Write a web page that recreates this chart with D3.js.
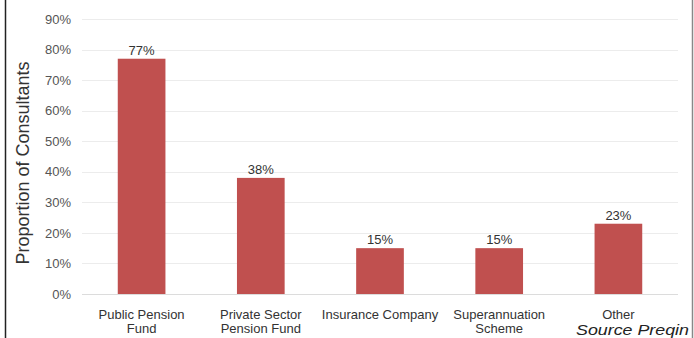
<!DOCTYPE html>
<html>
<head>
<meta charset="utf-8">
<script src="https://cdn.jsdelivr.net/npm/d3@7"></script>
<style>
  html, body { margin: 0; padding: 0; background: #fff; }
  svg { display: block; font-family: "Liberation Sans", Arial, sans-serif; }
</style>
</head>
<body>
<svg id="chart" width="694" height="338"></svg>
<script>
// Investor types served by consultants
const categories = [
  ["Public Pension", "Fund"],
  ["Private Sector", "Pension Fund"],
  ["Insurance Company"],
  ["Superannuation", "Scheme"],
  ["Other"]
];
const values = [77, 38, 15, 15, 23];
const yTicks = [0, 10, 20, 30, 40, 50, 60, 70, 80, 90];

const svg = d3.select("#chart");
const W = 694, H = 338;
const m = { left: 82, right: 16, top: 19, bottom: 44 };

const x = d3.scaleBand()
  .domain(d3.range(categories.length))
  .range([m.left, W - m.right])
  .paddingInner(0.6)
  .paddingOuter(0.3);

const y = d3.scaleLinear().domain([0, 90]).range([H - m.bottom, m.top]);

// frame lines on the left and right edges
svg.append("line").attr("x1", 5.5).attr("x2", 5.5).attr("y1", 0).attr("y2", H)
  .attr("stroke", "#222").attr("stroke-width", 1.5);
svg.append("line").attr("x1", 692.5).attr("x2", 692.5).attr("y1", 0).attr("y2", H)
  .attr("stroke", "#888").attr("stroke-width", 1.5);

// horizontal gridlines
svg.append("g")
  .selectAll("line")
  .data(yTicks)
  .join("line")
  .attr("x1", m.left).attr("x2", W - m.right)
  .attr("y1", d => Math.round(y(d)) + 0.5).attr("y2", d => Math.round(y(d)) + 0.5)
  .attr("stroke", d => d === 0 ? "#dcdcdc" : "#ececec")
  .attr("stroke-width", 1);

// y axis tick labels
const yAxis = d3.axisLeft(y).tickValues(yTicks).tickFormat(d => d + "%").tickSize(0).tickPadding(0);
const gy = svg.append("g").attr("transform", `translate(${m.left - 11},0)`).call(yAxis);
gy.select(".domain").remove();
gy.selectAll("text").attr("font-size", 13).attr("fill", "#555")
  .attr("font-family", "'Liberation Sans', Arial, sans-serif");

// bars
svg.append("g")
  .selectAll("rect")
  .data(values)
  .join("rect")
  .attr("x", (d, i) => x(i))
  .attr("y", d => y(d))
  .attr("width", x.bandwidth())
  .attr("height", d => y(0) - y(d))
  .attr("fill", "#c0504f");

// value labels
svg.append("g")
  .selectAll("text")
  .data(values)
  .join("text")
  .attr("x", (d, i) => x(i) + x.bandwidth() / 2)
  .attr("y", d => y(d) - 4)
  .attr("text-anchor", "middle")
  .attr("font-size", 13)
  .attr("fill", "#333")
  .text(d => d + "%");

// category labels
const cat = svg.append("g")
  .selectAll("text")
  .data(categories)
  .join("text")
  .attr("text-anchor", "middle")
  .attr("font-size", 13)
  .attr("fill", "#333")
  .attr("transform", (d, i) => `translate(${x(i) + x.bandwidth() / 2},${y(0) + 24.5})`);
cat.selectAll("tspan")
  .data(d => d)
  .join("tspan")
  .attr("x", 0)
  .attr("dy", (d, j) => j === 0 ? 0 : 14.5)
  .text(d => d);

// y axis title
svg.append("text")
  .attr("transform", `translate(28.5,163) rotate(-90)`)
  .attr("text-anchor", "middle")
  .attr("font-size", 18)
  .attr("fill", "#333")
  .text("Proportion of Consultants");

// source note
svg.append("text")
  .attr("x", 576)
  .attr("y", 335)
  .attr("font-size", 15)
  .attr("font-style", "italic")
  .attr("fill", "#222")
  .attr("textLength", 113)
  .attr("lengthAdjust", "spacingAndGlyphs")
  .text("Source Preqin");
</script>
</body>
</html>
